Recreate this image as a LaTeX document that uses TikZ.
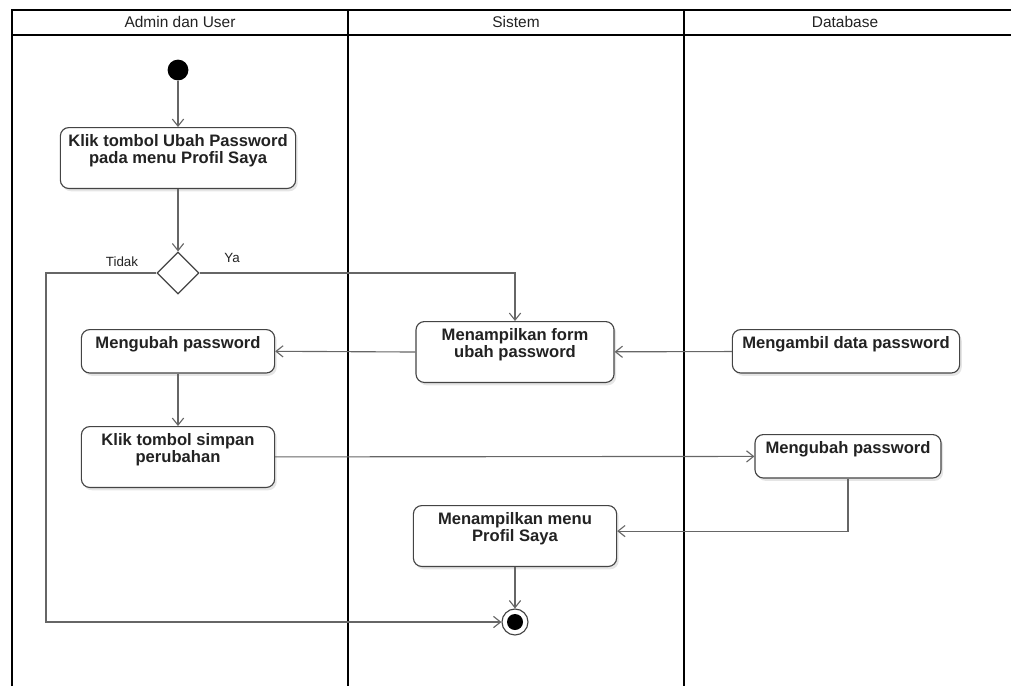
\documentclass[tikz,border=0pt]{standalone}
\usepackage{fontspec}
\setmainfont{Liberation Sans}
\usetikzlibrary{arrows.meta,shapes.geometric,shadows}

\definecolor{linegray}{HTML}{666666}
\definecolor{boxgray}{HTML}{444444}
\definecolor{txtgray}{HTML}{222222}

\begin{document}
\begin{tikzpicture}[x=0.025cm, y=-0.025cm,
    >={Straight Barb[length=5pt, width=8pt]},
    lane/.style={draw=black, line width=1.2pt},
    head/.style={text=txtgray, font=\fontsize{11}{13}\selectfont},
    act/.style={draw=boxgray, fill=white, rounded corners=6pt, line width=0.8pt,
                anchor=north, align=center, text=txtgray, inner ysep=4pt,
                font=\fontsize{11.8}{12.4}\selectfont\bfseries,
                text height=9.5pt, text depth=13.4pt,
                drop shadow={shadow xshift=1.5pt, shadow yshift=-2pt,
                             fill=black!40, opacity=0.25}},
    act2/.style={act, text height=21.9pt},
    initst/.style={circle, fill=black, inner sep=0pt, minimum size=0.52cm},
    finalst/.style={circle, draw=boxgray, fill=white, inner sep=0pt,
                    minimum size=0.65cm, line width=0.8pt,
                    path picture={\fill[black] (path picture bounding box.center)
                                  circle (0.2cm);}},
    decision/.style={diamond, draw=boxgray, fill=white, aspect=1, inner sep=0pt,
                     minimum size=1.05cm, line width=0.8pt},
    guard/.style={text=txtgray, font=\fontsize{9.5}{11}\selectfont},
    flow/.style={->, draw=linegray, line width=0.8pt}]

  \useasboundingbox (0,0) rectangle (1011,686);

  % ---- swimlanes
  \draw[lane] (12,686) -- (12,10) -- (1011,10);
  \draw[lane] (12,35) -- (1011,35);
  \draw[lane] (348,10) -- (348,686);
  \draw[lane] (684,10) -- (684,686);
  \node[head] (hA) at (180,22) {Admin dan User};
  \node[head] (hB) at (516,22) {Sistem};
  \node[head] (hC) at (845,22) {Database};

  % ---- Admin dan User
  \node[initst] (S) at (178,70) {};
  \node[act2, minimum width=5.88cm] (A1) at (178,127)
    {Klik tombol Ubah Password\\pada menu Profil Saya};
  \node[decision] (D) at (178,273) {};
  \node[guard] (gNo) at (122,262) {Tidak};
  \node[guard] (gYes) at (232,258) {Ya};
  \node[act, minimum width=4.83cm] (A2) at (178,329) {Mengubah password};
  \node[act2, minimum width=4.83cm] (A3) at (178,426)
    {Klik tombol simpan\\perubahan};

  % ---- Sistem
  \node[act2, minimum width=4.95cm] (B1) at (515,321)
    {Menampilkan form\\ubah password};
  \node[act2, minimum width=5.08cm] (B2) at (515,505)
    {Menampilkan menu\\Profil Saya};
  \node[finalst] (E) at (515,622) {};

  % ---- Database
  \node[act, minimum width=5.68cm] (C1) at (846,329) {Mengambil data password};
  \node[act, minimum width=4.65cm] (C2) at (848,434) {Mengubah password};

  % ---- flows
  \draw[flow] (S) -- (A1);
  \draw[flow] (A1) -- (D);
  \draw[flow] (D.east) -| (B1.north);
  \coordinate (back) at (46,622);
  \draw[flow] (D.west) -| (back) -- (E);
  \draw[flow] (C1) -- (B1);
  \draw[flow] (B1.west) -- (A2.east);
  \draw[flow] (A2) -- (A3);
  \draw[flow] (A3) -- (C2);
  \draw[flow] (C2.south) |- ([yshift=3.5pt]B2.east);
  \draw[flow] (B2) -- (E);
\end{tikzpicture}
\end{document}
